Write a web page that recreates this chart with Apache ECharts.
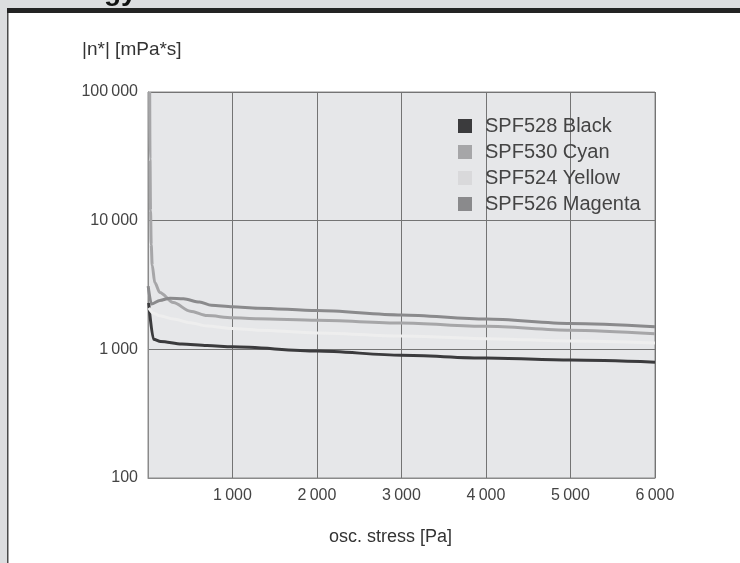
<!DOCTYPE html>
<html>
<head>
<meta charset="utf-8">
<script src="https://cdn.jsdelivr.net/npm/echarts@6/dist/echarts.min.js"></script>
<style>
  html, body { margin: 0; padding: 0; background: #dcdddf; }
  #chart { width: 740px; height: 563px; }
</style>
</head>
<body>
<div id="chart"></div>
<script>
// ---- data ----
const seriesNames = ['SPF528 Black', 'SPF530 Cyan', 'SPF524 Yellow', 'SPF526 Magenta'];

const blackStress = [8, 65, 150, 400, 700, 1000, 2000, 3000, 4000, 5000, 6000];
const blackVisc   = [2300, 1200, 1150, 1100, 1070, 1045, 970, 900, 855, 825, 795];

const cyanStress = [20, 24, 30, 38, 50, 80, 140, 300, 500, 700, 1000, 1300, 2000, 3000, 4000, 5000, 6000];
const cyanVisc   = [100000, 30000, 12000, 6500, 4500, 3300, 2770, 2310, 1980, 1830, 1760, 1730, 1680, 1600, 1510, 1410, 1320];

const yellowStress = [10, 60, 140, 300, 500, 700, 1000, 1300, 2000, 3000, 4000, 5000, 6000];
const yellowVisc   = [2100, 1920, 1820, 1720, 1610, 1520, 1450, 1410, 1340, 1270, 1210, 1160, 1120];

const magentaStress = [2, 40, 140, 260, 420, 610, 750, 1000, 1300, 2000, 3000, 4000, 5000, 6000];
const magentaVisc   = [3100, 2250, 2400, 2500, 2470, 2330, 2200, 2140, 2090, 2000, 1850, 1720, 1590, 1500];

const xTicks = [0, 1000, 2000, 3000, 4000, 5000, 6000];
const yTicks = [100, 1000, 10000, 100000];

const lineColors   = ['#3b3b3d', '#a6a6a8', '#eeeeee', '#8a8a8c'];
const legendColors = ['#3b3b3d', '#a6a6a8', '#d9d9db', '#8a8a8c'];

function pairs(xs, ys) { return xs.map((x, i) => [x, ys[i]]); }
function fmt(v) {
  const s = String(Math.round(v));
  return s.replace(/\B(?=(\d{3})+(?!\d))/g, '\u2009');
}

const dataSets = [
  pairs(blackStress, blackVisc),
  pairs(cyanStress, cyanVisc),
  pairs(yellowStress, yellowVisc),
  pairs(magentaStress, magentaVisc)
];

const FONT = '"Liberation Sans", Arial, sans-serif';

const chart = echarts.init(document.getElementById('chart'), null, { renderer: 'canvas' });

const option = {
  backgroundColor: '#dcdddf',
  animation: false,
  textStyle: { fontFamily: FONT },
  graphic: [
    { type: 'rect', z: -10, shape: { x: 8, y: 13, width: 732, height: 550 }, style: { fill: '#ffffff' } },
    { type: 'rect', z: -9, shape: { x: 7, y: 8, width: 733, height: 5 }, style: { fill: '#232323' } },
    { type: 'rect', z: -9, shape: { x: 7, y: 13, width: 1.5, height: 550 }, style: { fill: '#4a4a4a' } },
    { type: 'text', z: -8, left: 104, top: -22, style: { text: 'gy', fill: '#111', font: 'bold 28px ' + FONT } },
    { type: 'text', left: 82, top: 40, style: { text: '|n*| [mPa*s]', fill: '#333', font: '19px ' + FONT } },
    { type: 'text', left: 329, top: 528, style: { text: 'osc. stress [Pa]', fill: '#333', font: '18px ' + FONT } }
  ],
  grid: {
    left: 148, top: 92, right: 85, bottom: 85,
    show: true, backgroundColor: '#e6e7e9', borderColor: '#8a8a8a', borderWidth: 1
  },
  legend: {
    orient: 'vertical',
    left: 458, top: 116,
    padding: 0,
    itemWidth: 14, itemHeight: 14, itemGap: 6,
    icon: 'rect',
    textStyle: { fontSize: 20, color: '#444', fontFamily: FONT, padding: [0, 0, 0, 8] },
    data: seriesNames.map((n, i) => ({ name: n, itemStyle: { color: legendColors[i] } }))
  },
  xAxis: {
    type: 'value',
    min: xTicks[0], max: xTicks[xTicks.length - 1], interval: 1000,
    axisLine: { show: true, lineStyle: { color: '#8a8a8a', width: 1 } },
    axisTick: { show: false },
    splitLine: { show: true, lineStyle: { color: '#747474', width: 1 } },
    axisLabel: {
      color: '#444', fontSize: 16, margin: 10, fontFamily: FONT,
      formatter: v => (v === 0 ? '' : fmt(v))
    }
  },
  yAxis: {
    type: 'log', logBase: 10,
    min: yTicks[0], max: yTicks[yTicks.length - 1],
    axisLine: { show: true, lineStyle: { color: '#8a8a8a', width: 1 } },
    axisTick: { show: false },
    splitLine: { show: true, lineStyle: { color: '#747474', width: 1 } },
    axisLabel: { color: '#444', fontSize: 16, margin: 10, fontFamily: FONT, formatter: v => fmt(v) }
  },
  series: seriesNames.map((n, i) => ({
    name: n,
    type: 'line',
    data: dataSets[i],
    showSymbol: false,
    symbol: 'none',
    smooth: 0.3,
    smoothMonotone: 'x',
    lineStyle: { color: lineColors[i], width: 3 },
    itemStyle: { color: legendColors[i] },
    z: 3
  }))
};

chart.setOption(option);
</script>
</body>
</html>
